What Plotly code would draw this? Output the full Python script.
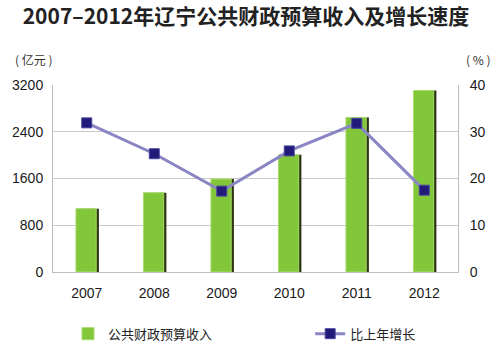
import plotly.graph_objects as go

years = ["2007", "2008", "2009", "2010", "2011", "2012"]
revenue = [1082.7, 1356.1, 1591.2, 2004.8, 2643.2, 3105.4]
growth = [31.9, 25.3, 17.3, 25.9, 31.8, 17.5]
left_ticks = [0, 800, 1600, 2400, 3200]
right_ticks = [0, 10, 20, 30, 40]

FONT = "Liberation Sans, Arial, Noto Sans CJK SC, sans-serif"
CJK = "Noto Sans CJK SC, sans-serif"

fig = go.Figure()

# shadow behind bars
fig.add_trace(go.Bar(
    x=years, y=revenue, width=0.32, offset=-0.14,
    marker=dict(color="#2b3510", line=dict(width=0)),
    showlegend=False, hoverinfo="skip"))
# green bars
fig.add_trace(go.Bar(
    x=years, y=revenue, width=0.3, offset=-0.16,
    marker=dict(color="#82c63a", line=dict(color="#a8dc6c", width=1)),
    name="公共财政预算收入", legend="legend"))
fig.add_trace(go.Scatter(
    x=years, y=growth, yaxis="y2", mode="lines+markers",
    line=dict(color="#8a86c4", width=3),
    marker=dict(symbol="square", size=10, color="#221a78",
                line=dict(color="#4a45a0", width=1)),
    name="比上年增长", legend="legend2"))

legend_common = dict(orientation="h", yanchor="middle", xanchor="left",
                     font=dict(family=CJK, size=13, color="#222222"),
                     bgcolor="rgba(0,0,0,0)")

fig.update_layout(
    width=492, height=354,
    margin=dict(l=53, r=34, t=85, b=82, autoexpand=False),
    paper_bgcolor="white", plot_bgcolor="white",
    barmode="overlay",
    font=dict(family=FONT, size=14, color="#1a1a1a"),
    title=dict(text="<b>2007–2012年辽宁公共财政预算收入及增长速度</b>",
               x=0.5, xanchor="center", yref="container", y=0.952, yanchor="middle",
               font=dict(family=CJK, size=21, color="#222222")),
    xaxis=dict(type="category", range=[-0.5, 5.5], showgrid=False,
               showline=True, linecolor="#bdbdbd", linewidth=1,
               ticks="", tickfont=dict(size=14, color="#1a1a1a"),
               ticklabelstandoff=8),
    yaxis=dict(range=[0, 3200], tickvals=left_ticks, showgrid=True,
               gridcolor="#c9c9c9", gridwidth=1, showline=True,
               linecolor="#bdbdbd", zeroline=False, ticks="",
               tickfont=dict(size=14, color="#1a1a1a"), ticklabelstandoff=6),
    yaxis2=dict(range=[0, 40], tickvals=right_ticks, overlaying="y",
                side="right", showgrid=False, zeroline=False,
                showline=True, linecolor="#bdbdbd", ticks="",
                tickfont=dict(size=14, color="#1a1a1a"), ticklabelstandoff=8),
    legend=dict(x=0.037, y=-0.33, **legend_common),
    legend2=dict(x=0.635, y=-0.33, **legend_common),
    annotations=[
        dict(text="( 亿元 )", xref="paper", yref="paper", x=-0.1, y=1.135,
             xanchor="left", yanchor="middle", showarrow=False,
             font=dict(family=CJK, size=12, color="#333333")),
        dict(text="( % )", xref="paper", yref="paper", x=1.05, y=1.135,
             xanchor="center", yanchor="middle", showarrow=False,
             font=dict(family=CJK, size=12, color="#333333")),
    ],
)

fig.write_html("out.html")
